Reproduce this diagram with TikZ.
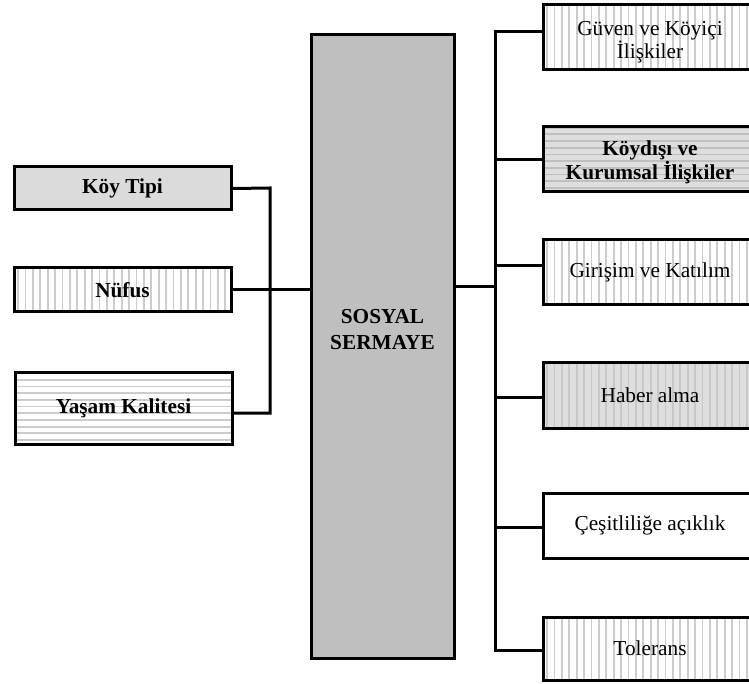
\documentclass[tikz,border=0pt]{standalone}
\usepackage{fontspec}
\setmainfont{Liberation Serif}
\begin{document}
\begin{tikzpicture}[x=1pt,y=-1pt,
  box/.style={draw=black, line width=3pt, rectangle, inner sep=0pt, align=center,
    font=\fontsize{21.3}{20}\selectfont},
  bbox/.style={box, font=\fontsize{21.3}{20}\selectfont\bfseries},
  pat/.style={line width=1.8pt, draw=#1},
  vlines/.style={path picture={\foreach \i in {0,...,40}{\draw[pat=#1] ([xshift=\i*7.4pt+4pt]path picture bounding box.south west) -- ([xshift=\i*7.4pt+4pt]path picture bounding box.north west);}}},
  hlines/.style={path picture={\foreach \i in {0,...,15}{\draw[pat=#1] ([yshift=\i*6.7pt+4pt]path picture bounding box.south west) -- ([yshift=\i*6.7pt+4pt]path picture bounding box.south east);}}},
  conn/.style={line width=3pt, draw=black, line join=miter}
]
\useasboundingbox (0,0) rectangle (749,684);

% central box
\node[box, fill=black!25, minimum width=143pt, minimum height=623pt] (center) at (382.5,346.5) {};
\node[font=\fontsize{21.3}{26}\selectfont\bfseries, align=center, inner sep=0pt] (lbl) at (382.5,330) {SOSYAL\\SERMAYE};

% left boxes
\node[bbox, fill=black!14, minimum width=217pt, minimum height=43pt] (koy) at (122.5,188.5) {Köy Tipi};
\node[bbox, fill=white, vlines=black!20, minimum width=217pt, minimum height=44pt] (nufus) at (122.5,290) {Nüfus};
\node[bbox, fill=white, hlines=black!20, minimum width=217pt, minimum height=72pt] (yasam) at (123.5,408) {Yaşam Kalitesi};

% right boxes
\node[box, fill=white, vlines=black!20, minimum width=214pt, minimum height=65pt] (guven) at (650,37.5) {};
\node[font=\fontsize{21.3}{21}\selectfont, align=center, inner sep=0pt] (guvent) at (650,42) {Güven ve Köyiçi\\İlişkiler};
\node[bbox, fill=black!13, vlines=black!25, hlines=black!25, minimum width=214pt, minimum height=65pt] (koydisi) at (650,159.5) {};
\node[font=\fontsize{21.3}{21}\selectfont\bfseries, align=center, inner sep=0pt] (koydisit) at (650,162.5) {Köydışı ve\\Kurumsal İlişkiler};
\node[box, fill=white, vlines=black!20, minimum width=214pt, minimum height=65pt] (girisim) at (650,272.5) {Girişim ve Katılım};
\node[box, fill=black!13, vlines=black!22, minimum width=214pt, minimum height=66pt] (haber) at (650,395) {Haber alma};
\node[box, fill=white, minimum width=214pt, minimum height=65pt] (cesit) at (650,525.5) {Çeşitliliğe açıklık};
\node[box, fill=white, vlines=black!20, minimum width=214pt, minimum height=63pt] (tolerans) at (650,648.5) {Tolerans};

% left connectors
\coordinate (lt) at (270,188);
\coordinate (lb) at (270,413);
\draw[conn] (koy.east) -- (lt) -- (lb) -- ([yshift=-5pt]yasam.east);
\draw[conn] (nufus.east) -- (nufus.east -| center.west);

% right connectors
\coordinate (rb) at (495,650);
\coordinate (rmid) at (495,287);
\draw[conn] ([yshift=5.5pt]guven.west) -| (rb) |- ([yshift=-1.5pt]tolerans.west);
\draw[conn] (center.east |- rmid) -- (rmid);
\draw[conn] (koydisi.west) -- (koydisi.west -| rb);
\draw[conn] ([yshift=6.5pt]girisim.west) -- ([yshift=6.5pt]girisim.west -| rb);
\draw[conn] ([yshift=-2pt]haber.west) -- ([yshift=-2pt]haber.west -| rb);
\draw[conn] ([yshift=-1.5pt]cesit.west) -- ([yshift=-1.5pt]cesit.west -| rb);
\end{tikzpicture}
\end{document}
